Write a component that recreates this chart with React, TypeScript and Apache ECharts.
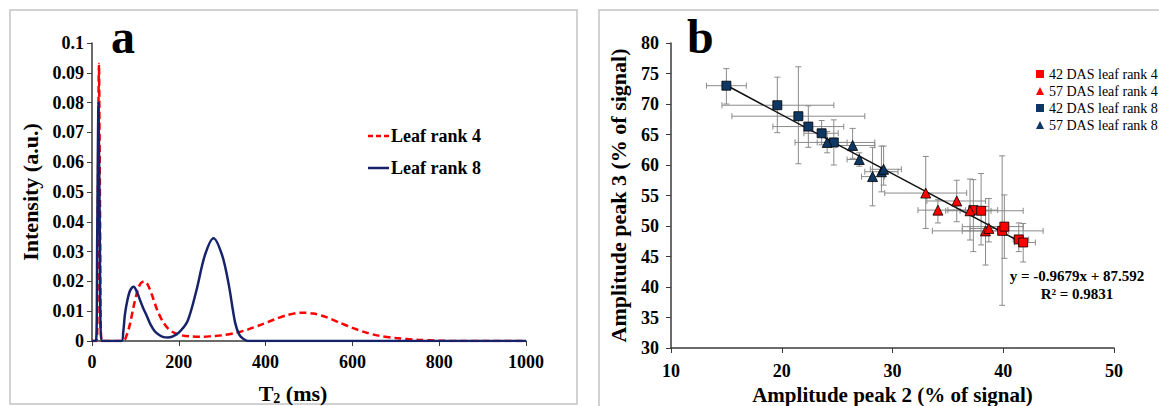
import React, { useEffect, useRef } from 'react';
import * as echarts from 'echarts';

// ---------- Panel a: T2 distributions ----------
const t2Rank4 = [0, 11, 13.5, 16, 18.5, 22, 72, 80, 88, 95, 105, 112, 120, 128, 138, 150, 162, 175, 190, 210, 230, 250, 275, 300, 330, 360, 390, 420, 450, 480, 510, 540, 570, 600, 630, 660, 700, 750, 800, 850, 1000];
const intensityRank4 = [0, 0, 0.045, 0.093, 0.045, 0, 0, 0.002, 0.006, 0.011, 0.017, 0.0193, 0.020, 0.019, 0.0155, 0.0105, 0.0068, 0.0042, 0.0027, 0.0018, 0.0015, 0.0014, 0.0016, 0.0019, 0.0027, 0.0039, 0.0055, 0.0072, 0.0087, 0.0095, 0.0092, 0.008, 0.0062, 0.0044, 0.0029, 0.0018, 0.001, 0.0004, 0.0001, 0, 0];
const t2Rank8 = [0, 9, 12, 15, 18, 22, 68, 72, 76, 82, 88, 96, 102, 110, 118, 126, 135, 145, 155, 165, 175, 185, 200, 220, 240, 260, 280, 300, 315, 330, 340, 350, 360, 1000];
const intensityRank8 = [0, 0, 0.035, 0.08, 0.035, 0, 0, 0.003, 0.009, 0.014, 0.017, 0.0182, 0.017, 0.014, 0.011, 0.0085, 0.0055, 0.0032, 0.002, 0.0013, 0.0012, 0.0015, 0.0028, 0.0066, 0.0166, 0.0287, 0.0345, 0.0287, 0.019, 0.006, 0.002, 0.0006, 0, 0];
const legendA = ['Leaf rank 4', 'Leaf rank 8'];

// ---------- Panel b: amplitude peak 2 vs peak 3 ----------
const r4d42X = [37.3, 38.0, 39.9, 40.1, 41.4, 41.8];
const r4d42Y = [52.6, 52.5, 49.2, 49.9, 47.8, 47.3];
const r4d42XLow = [35.0, 36.1, 33.6, 36.3, 40.9, 41.0];
const r4d42XHigh = [39.5, 41.8, 43.6, 41.8, 42.3, 42.9];
const r4d42YLow = [45.8, 46.9, 37.0, 44.7, 45.8, 44.1];
const r4d42YHigh = [57.6, 58.6, 61.5, 55.1, 50.5, 50.4];

const r4d57X = [33.0, 35.8, 34.1, 37.0, 38.4, 38.7];
const r4d57Y = [55.4, 54.1, 52.6, 52.5, 49.2, 49.6];
const r4d57XLow = [29.3, 33.1, 32.3, 34.8, 36.3, 37.0];
const r4d57XHigh = [36.7, 38.4, 36.6, 38.9, 40.5, 40.3];
const r4d57YLow = [49.6, 50.7, 50.5, 47.7, 43.6, 47.4];
const r4d57YHigh = [61.4, 57.5, 54.3, 57.7, 53.2, 54.5];

const r8d42X = [15.0, 19.6, 21.5, 22.4, 23.6, 24.7];
const r8d42Y = [73.0, 69.8, 68.0, 66.3, 65.2, 63.7];
const r8d42XLow = [13.2, 14.6, 15.5, 19.2, 22.0, 23.2];
const r8d42XHigh = [16.8, 24.7, 27.5, 25.6, 25.1, 28.4];
const r8d42YLow = [70.0, 65.3, 60.2, 62.9, 63.3, 60.0];
const r8d42YHigh = [75.8, 74.4, 76.1, 69.7, 67.3, 67.4];

const r8d57X = [24.1, 26.4, 27.0, 28.2, 29.0, 29.2];
const r8d57Y = [63.7, 63.2, 60.9, 58.1, 58.9, 59.3];
const r8d57XLow = [21.2, 24.9, 25.9, 27.2, 27.5, 28.0];
const r8d57XHigh = [25.9, 28.4, 27.2, 29.3, 30.5, 30.8];
const r8d57YLow = [62.0, 61.1, 59.8, 53.3, 55.6, 56.7];
const r8d57YHigh = [65.5, 66.0, 62.0, 62.9, 63.1, 63.1];

const regX = [15, 41.8];
const regY = [73.07, 47.14];

const legendB = ['42 DAS leaf rank 4', '57 DAS leaf rank 4', '42 DAS leaf rank 8', '57 DAS leaf rank 8'];

const FONT = "'Liberation Serif', 'Times New Roman', serif";
const RED = '#FF0000';
const NAVY_LINE = '#16236A';
const NAVY = '#0E3763';
const AXIS = '#3a3a3a';

function zip(a: number[], b: number[]) {
  return a.map((v, i) => [v, b[i]]);
}

function errorBars(xs: number[], ys: number[], xl: number[], xh: number[], yl: number[], yh: number[]) {
  const data = xs.map((x, i) => [x, ys[i], xl[i], xh[i], yl[i], yh[i]]);
  return {
    type: 'custom',
    xAxisIndex: 1,
    yAxisIndex: 1,
    silent: true,
    z: 1,
    encode: { x: 0, y: 1 },
    data,
    renderItem: (params: any, api: any) => {
      const c = api.coord([api.value(0), api.value(1)]);
      const pxl = api.coord([api.value(2), api.value(1)]);
      const pxh = api.coord([api.value(3), api.value(1)]);
      const pyl = api.coord([api.value(0), api.value(4)]);
      const pyh = api.coord([api.value(0), api.value(5)]);
      const style = { stroke: '#8a8a8a', lineWidth: 1, fill: null };
      const cap = 3;
      const ln = (x1: number, y1: number, x2: number, y2: number) => ({
        type: 'line',
        shape: { x1, y1, x2, y2 },
        style,
      });
      return {
        type: 'group',
        children: [
          ln(pxl[0], c[1], pxh[0], c[1]),
          ln(pxl[0], c[1] - cap, pxl[0], c[1] + cap),
          ln(pxh[0], c[1] - cap, pxh[0], c[1] + cap),
          ln(c[0], pyl[1], c[0], pyh[1]),
          ln(c[0] - cap, pyl[1], c[0] + cap, pyl[1]),
          ln(c[0] - cap, pyh[1], c[0] + cap, pyh[1]),
        ],
      };
    },
  };
}

function scatter(name: string, xs: number[], ys: number[], color: string, symbol: string, size: number) {
  return {
    name,
    type: 'scatter',
    xAxisIndex: 1,
    yAxisIndex: 1,
    symbol,
    symbolSize: size,
    z: 3,
    itemStyle: { color, borderColor: '#000', borderWidth: 0.8, opacity: 1 },
    data: zip(xs, ys),
  };
}

const axisLabelStyle = { fontFamily: FONT, fontWeight: 'bold', fontSize: 18, color: '#000' };
const nameStyle = { fontFamily: FONT, fontWeight: 'bold', fontSize: 22, color: '#000' };

export default function App() {
  const ref = useRef<HTMLDivElement>(null);
  useEffect(() => {
    document.body.style.margin = '0';
    const chart = echarts.init(ref.current!, null, { renderer: 'svg' });
    const option: any = {
      animation: false,
      backgroundColor: '#fff',
      grid: [
        { left: 92, top: 43, width: 434, height: 298, containLabel: false, outerBoundsMode: 'none' },
        { left: 671, top: 43, width: 443, height: 305, containLabel: false, outerBoundsMode: 'none' },
      ],
      xAxis: [
        {
          gridIndex: 0,
          type: 'value',
          min: 0,
          max: 1000,
          interval: 200,
          splitLine: { show: false },
          axisLine: { onZero: false, lineStyle: { color: AXIS, width: 1.5 } },
          axisTick: { show: true, length: 5, lineStyle: { color: AXIS } },
          axisLabel: { ...axisLabelStyle, margin: 12, formatter: (v: number) => String(v) },
          name: '{t|T}{s|2}{t| (ms)}',
          nameLocation: 'middle',
          nameGap: 40,
          nameTextStyle: {
            padding: [0, 32, 0, 0],
            rich: {
              t: { ...nameStyle },
              s: { fontFamily: FONT, fontWeight: 'bold', fontSize: 14, color: '#000', verticalAlign: 'bottom', padding: [10, 0, 0, 0] },
            },
          },
        },
        {
          gridIndex: 1,
          type: 'value',
          min: 10,
          max: 50,
          interval: 10,
          splitLine: { show: false },
          axisLine: { onZero: false, lineStyle: { color: AXIS, width: 1.5 } },
          axisTick: { show: true, length: 5, lineStyle: { color: AXIS } },
          axisLabel: { ...axisLabelStyle, margin: 14 },
          name: 'Amplitude peak 2 (% of signal)',
          nameLocation: 'middle',
          nameGap: 33,
          nameTextStyle: { ...nameStyle, fontSize: 21 },
        },
      ],
      yAxis: [
        {
          gridIndex: 0,
          type: 'value',
          min: 0,
          max: 0.1,
          interval: 0.01,
          splitLine: { show: false },
          axisLine: { show: true, onZero: false, lineStyle: { color: AXIS, width: 1.5 } },
          axisTick: { show: true, length: 5, lineStyle: { color: AXIS } },
          axisLabel: {
            ...axisLabelStyle,
            margin: 8,
            formatter: (v: number) => (v === 0 ? '0' : String(parseFloat(v.toFixed(2)))),
          },
          name: 'Intensity (a.u.)',
          nameLocation: 'middle',
          nameGap: 51,
          nameTextStyle: { ...nameStyle },
        },
        {
          gridIndex: 1,
          type: 'value',
          min: 30,
          max: 80,
          interval: 5,
          splitLine: { show: false },
          axisLine: { show: true, onZero: false, lineStyle: { color: AXIS, width: 1.5 } },
          axisTick: { show: true, length: 5, lineStyle: { color: AXIS } },
          axisLabel: { ...axisLabelStyle, margin: 12 },
          name: 'Amplitude peak 3 (% of signal)',
          nameLocation: 'middle',
          nameGap: 42,
          nameTextStyle: { ...nameStyle },
        },
      ],
      legend: [
        {
          data: [
            { name: legendB[0], icon: 'rect', itemStyle: { borderWidth: 0 } },
            { name: legendB[1], icon: 'triangle', itemStyle: { borderWidth: 0 } },
            { name: legendB[2], icon: 'rect', itemStyle: { borderWidth: 0 } },
            { name: legendB[3], icon: 'triangle', itemStyle: { borderWidth: 0 } },
          ],
          orient: 'vertical',
          left: 1031,
          top: 62,
          itemWidth: 8,
          itemHeight: 8,
          itemGap: 3,
          textStyle: { fontFamily: FONT, fontSize: 14, color: '#000' },
        },
      ],
      graphic: [
        { type: 'rect', shape: { x: 10, y: 10, width: 567, height: 394 }, style: { fill: 'none', stroke: '#c4c4c4', lineWidth: 1.5 }, silent: true, z: -10 },
        { type: 'rect', shape: { x: 599, y: 10, width: 600, height: 420 }, style: { fill: 'none', stroke: '#c4c4c4', lineWidth: 1.5 }, silent: true, z: -10 },
        { type: 'text', left: 111, top: 12, style: { text: 'a', font: `bold 48px ${FONT}`, fill: '#000' } },
        { type: 'text', left: 687, top: 12, style: { text: 'b', font: `bold 48px ${FONT}`, fill: '#000' } },
        { type: 'text', x: 1077, y: 276, style: { text: 'y = -0.9679x + 87.592', font: `bold 15px ${FONT}`, fill: '#000', align: 'center', verticalAlign: 'middle' } },
        { type: 'text', x: 1077, y: 294, style: { text: 'R² = 0.9831', font: `bold 15px ${FONT}`, fill: '#000', align: 'center', verticalAlign: 'middle' } },
        // legend of panel a
        { type: 'line', shape: { x1: 368, y1: 136, x2: 389, y2: 136 }, style: { stroke: RED, lineWidth: 2.5, lineDash: [5, 3] } },
        { type: 'text', x: 391, y: 136, style: { text: legendA[0], font: `bold 18px ${FONT}`, fill: '#000', align: 'left', verticalAlign: 'middle' } },
        { type: 'line', shape: { x1: 368, y1: 168, x2: 389, y2: 168 }, style: { stroke: NAVY_LINE, lineWidth: 2.5 } },
        { type: 'text', x: 391, y: 168, style: { text: legendA[1], font: `bold 18px ${FONT}`, fill: '#000', align: 'left', verticalAlign: 'middle' } },
      ],
      series: [
        {
          name: legendA[0],
          type: 'line',
          xAxisIndex: 0,
          yAxisIndex: 0,
          symbol: 'none',
          smooth: 0.3,
          z: 2,
          lineStyle: { color: RED, width: 2.5, type: [7, 4] },
          itemStyle: { color: RED },
          data: zip(t2Rank4, intensityRank4),
        },
        {
          name: legendA[1],
          type: 'line',
          xAxisIndex: 0,
          yAxisIndex: 0,
          symbol: 'none',
          smooth: 0.3,
          z: 3,
          lineStyle: { color: NAVY_LINE, width: 2.5 },
          itemStyle: { color: NAVY_LINE },
          data: zip(t2Rank8, intensityRank8),
        },
        errorBars(r4d42X, r4d42Y, r4d42XLow, r4d42XHigh, r4d42YLow, r4d42YHigh),
        errorBars(r4d57X, r4d57Y, r4d57XLow, r4d57XHigh, r4d57YLow, r4d57YHigh),
        errorBars(r8d42X, r8d42Y, r8d42XLow, r8d42XHigh, r8d42YLow, r8d42YHigh),
        errorBars(r8d57X, r8d57Y, r8d57XLow, r8d57XHigh, r8d57YLow, r8d57YHigh),
        {
          type: 'line',
          xAxisIndex: 1,
          yAxisIndex: 1,
          symbol: 'none',
          z: 2,
          silent: true,
          lineStyle: { color: '#111', width: 1.5 },
          data: zip(regX, regY),
        },
        scatter(legendB[0], r4d42X, r4d42Y, RED, 'rect', 9),
        scatter(legendB[1], r4d57X, r4d57Y, RED, 'triangle', 10),
        scatter(legendB[2], r8d42X, r8d42Y, NAVY, 'rect', 9),
        scatter(legendB[3], r8d57X, r8d57Y, NAVY, 'triangle', 10),
      ],
    };
    chart.setOption(option);
    return () => chart.dispose();
  }, []);
  return <div ref={ref} style={{ width: 1159, height: 406 }} />;
}
